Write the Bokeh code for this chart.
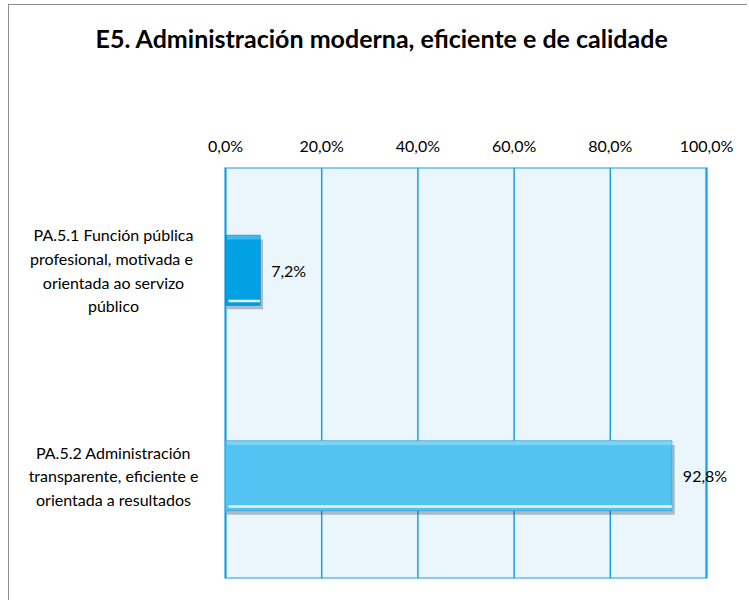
from bokeh.plotting import figure
from bokeh.models import FactorRange, Range1d, FixedTicker, ColumnDataSource
from bokeh.core.properties import value
from bokeh.embed import file_html
from bokeh.resources import INLINE
from bokeh.transform import dodge

# ---- data ----
categories = [
    "PA.5.1 Función pública\nprofesional, motivada  e\norientada ao servizo\npúblico",
    "PA.5.2 Administración\ntransparente, eficiente e\norientada a resultados",
]
values = [7.2, 92.8]
bar_colors = ["#02A1E4", "#52C3F2"]
edge_colors = ["#1889C0", "#47A9D4"]
tick_values = [0, 20, 40, 60, 80, 100]
tick_labels = ["0,0%", "20,0%", "40,0%", "60,0%", "80,0%", "100,0%"]
title_text = "E5.  Administración moderna, eficiente e de calidade"

FONT = "Lato"
BLUE = "#1AA0E0"

# ---- layout (pixels) ----
W, H = 739, 596
canvas_left, canvas_top = 9, 5          # page position of canvas (margin + border)
axis_px0, axis_px100 = 225, 706         # page x of 0 % and 100 %
frame_top, frame_bottom = 167, 578
ppu = (axis_px100 - axis_px0) / 100.0
x_start = -(axis_px0 - canvas_left) / ppu
x_end = (canvas_left + W - axis_px0) / ppu

n = len(categories)
src = ColumnDataSource(dict(
    cat=categories,
    val=values,
    shadow=[v + 0.6 for v in values],
    color=bar_colors,
    edge=edge_colors,
    label=[("%.1f" % v).replace(".", ",") + "%" for v in values],
    zero=[0] * n,
))

p = figure(
    width=W, height=H,
    y_range=FactorRange(factors=categories[::-1], range_padding=0),
    x_range=Range1d(x_start, x_end),
    x_axis_location="above", y_axis_location=None,
    output_backend="svg", toolbar_location=None,
    min_border_left=0, min_border_right=0,
    min_border_top=frame_top - canvas_top,
    min_border_bottom=canvas_top + H - frame_bottom,
)
p.styles = {"border-left": "1px solid #8c8c8c", "border-top": "1px solid #8c8c8c",
            "margin-left": "8px", "margin-top": "4px"}

p.background_fill_color = "white"
p.border_fill_color = "white"
p.outline_line_color = None
p.grid.grid_line_color = None

p.title.text = title_text
p.title.text_font = FONT
p.title.text_font_size = "25px"
p.title.text_font_style = "bold"
p.title.text_color = "#000000"
p.title.align = "left"
p.title.offset = 86
p.title.standoff = 0

# axis
xa = p.xaxis[0]
xa.ticker = FixedTicker(ticks=tick_values)
xa.major_label_overrides = {t: l for t, l in zip(tick_values, tick_labels)}
xa.axis_line_color = None
xa.major_tick_out = 0
xa.major_tick_in = 0
xa.minor_tick_out = 0
xa.minor_tick_in = 0
xa.major_label_standoff = 13
xa.major_label_text_font = FONT
xa.major_label_text_font_size = "16px"
xa.major_label_text_color = "#000000"
# invisible spacer label pushing the title up
xa.axis_label = " "
xa.axis_label_text_font_size = "10px"
xa.axis_label_standoff = 66

# plot area background + grid + border
p.quad(left=[tick_values[0]], right=[tick_values[-1]], bottom=[0], top=[n],
       fill_color="#EAF6FC", line_color=None)
p.segment(x0=tick_values, x1=tick_values, y0=[0] * len(tick_values), y1=[n] * len(tick_values),
          line_color=BLUE, line_width=1.5)
p.quad(left=[tick_values[0]], right=[tick_values[-1]], bottom=[0], top=[n],
       fill_color=None, line_color=BLUE, line_width=2)

# bars: shadow, main, bevel highlights
p.hbar(y=dodge("cat", -0.02, range=p.y_range), left=0.3, right="shadow", height=0.34,
       source=src, fill_color="#2a4f63", fill_alpha=0.35, line_color=None)
p.hbar(y="cat", left=0, right="val", height=0.34, source=src,
       fill_color="color", line_color="edge", line_width=1)
p.hbar(y=dodge("cat", 0.16, range=p.y_range), left=0.3, right="val", height=0.02,
       source=src, fill_color="white", fill_alpha=0.25, line_color=None)
p.hbar(y=dodge("cat", -0.15, range=p.y_range), left=0.6, right="val", height=0.012,
       source=src, fill_color="white", fill_alpha=0.85, line_color=None)

# value labels
p.text(x="val", y="cat", text="label", source=src, x_offset=11,
       text_align="left", text_baseline="middle",
       text_font=value(FONT), text_font_size="16px", text_color="#000000")

# category labels (centred lines, left of the plot area)
p.text(x="zero", y="cat", text="cat", source=src, x_offset=-112,
       text_align="center", text_baseline="middle", text_line_height=1.25,
       text_font=value(FONT), text_font_size="16px", text_color="#000000")

open("out.html", "w").write(file_html(p, INLINE))
